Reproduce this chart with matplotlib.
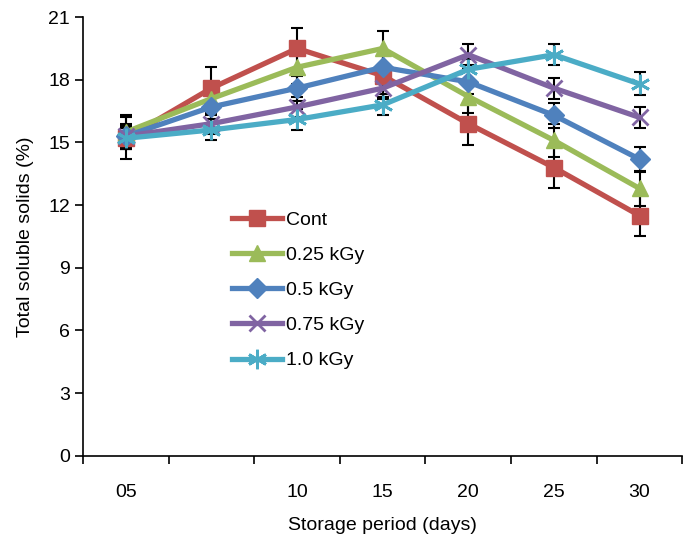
import matplotlib
matplotlib.use("Agg")
import matplotlib.pyplot as plt
import numpy as np

plt.rcParams['font.family'] = ['Liberation Sans', 'DejaVu Sans']

categories = ["05", "", "10", "15", "20", "25", "30"]
series_names = ["Cont", "0.25 kGy", "0.5 kGy", "0.75 kGy", "1.0 kGy"]
cont = [15.2, 17.6, 19.5, 18.2, 15.9, 13.8, 11.5]
kgy025 = [15.5, 17.1, 18.6, 19.5, 17.2, 15.1, 12.8]
kgy05 = [15.3, 16.7, 17.6, 18.6, 17.9, 16.3, 14.2]
kgy075 = [15.3, 15.9, 16.7, 17.6, 19.2, 17.6, 16.2]
kgy10 = [15.2, 15.6, 16.1, 16.8, 18.5, 19.2, 17.8]
err_cont = [1.0, 1.0, 1.0, 1.0, 1.0, 1.0, 1.0]
err_025 = [0.8, 0.8, 0.8, 0.85, 0.8, 0.8, 0.85]
err_05 = [0.6, 0.6, 0.6, 0.6, 0.6, 0.6, 0.6]
err_075 = [0.5, 0.5, 0.5, 0.5, 0.5, 0.5, 0.5]
err_10 = [0.5, 0.5, 0.5, 0.5, 0.5, 0.5, 0.55]

colors = ["#C0504D", "#9BBB59", "#4F81BD", "#8064A2", "#4BACC6"]
markers = ["s", "^", "D", "x", "*"]

fig = plt.figure(figsize=(6.92, 5.35), dpi=100)
ax = fig.add_axes([0.12, 0.148, 0.866, 0.820])

x = np.arange(len(categories))
data = [cont, kgy025, kgy05, kgy075, kgy10]
errs = [err_cont, err_025, err_05, err_075, err_10]

for i, (y, e) in enumerate(zip(data, errs)):
    ax.errorbar(x, y, yerr=e, fmt='none', ecolor='black', elinewidth=1.5,
                capsize=4, capthick=1.5, zorder=2)

msizes = [12, 12, 10, 12, 14]
for i, y in enumerate(data):
    m = markers[i]
    if m == "x":
        ax.plot(x, y, color=colors[i], lw=3.8, marker="x", ms=msizes[i], mew=2,
                label=series_names[i], zorder=3 + i * 0.1)
    elif m == "*":
        ax.plot(x, y, color=colors[i], lw=3.8, marker=(6, 2, 0), ms=msizes[i], mew=2,
                label=series_names[i], zorder=3 + i * 0.1)
    else:
        ax.plot(x, y, color=colors[i], lw=3.8, marker=m, ms=msizes[i],
                label=series_names[i], zorder=3 + i * 0.1)

ax.set_xlim(-0.5, len(categories) - 0.5)
ax.set_ylim(0, 21)
ax.set_yticks(np.arange(0, 22, 3))
ax.set_xticks(x)
ax.set_xticklabels(categories)
ax.set_xticks(np.arange(-0.5, len(categories), 1), minor=True)
ax.tick_params(axis='x', which='major', length=0, pad=20, labelsize=14)
ax.tick_params(axis='x', which='minor', length=6, width=1.2, direction='out')
ax.tick_params(axis='y', length=6, width=1.2, direction='out', labelsize=14)

for s in ['top', 'right']:
    ax.spines[s].set_visible(False)
for s in ['left', 'bottom']:
    ax.spines[s].set_linewidth(1.2)

ax.set_xlabel("Storage period (days)", fontsize=14, labelpad=12)
ax.set_ylabel("Total soluble solids (%)", fontsize=14, labelpad=10)

ax.legend(loc='upper left', bbox_to_anchor=(0.235, 0.575), frameon=False,
          fontsize=14, handlelength=2.6, labelspacing=0.9, handletextpad=0.2,
          borderaxespad=0)

fig.savefig("out.png", dpi=100)
